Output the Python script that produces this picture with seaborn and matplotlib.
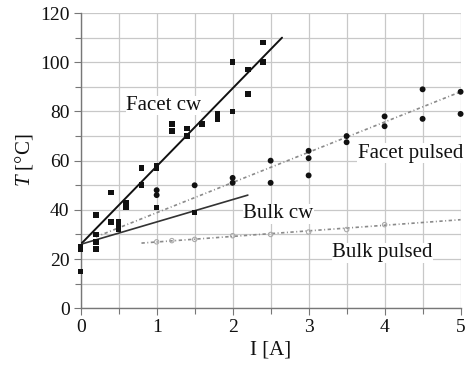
import matplotlib
matplotlib.use("Agg")
import matplotlib.pyplot as plt
import seaborn as sns
import pandas as pd
from matplotlib.ticker import MultipleLocator

sns.set_theme(style="white")
plt.rcParams['font.family'] = ['Liberation Serif', 'DejaVu Serif']
plt.rcParams['mathtext.fontset'] = 'custom'
plt.rcParams['mathtext.it'] = 'Liberation Serif:italic'
plt.rcParams['mathtext.rm'] = 'Liberation Serif'

# Measured points: current I [A], temperature T [°C]
facet_cw_I = [0, 0, 0.2, 0.4, 0.4, 0.5, 0.6, 0.6, 0.8, 0.8, 1.0, 1.0, 1.2, 1.2, 1.4, 1.4,
              1.6, 1.8, 1.8, 2.0, 2.0, 2.2, 2.2, 2.4, 2.4]
facet_cw_T = [25, 24, 38, 47, 35, 35, 43, 41, 57, 50, 57, 58, 75, 72, 73, 70,
              75, 79, 77, 100, 80, 97, 87, 108, 100]

bulk_cw_I = [0, 0.2, 0.2, 0.2, 0.5, 0.5, 1.0, 1.5]
bulk_cw_T = [15, 24, 30, 27, 33, 32, 41, 39]

facet_pulsed_I = [1.0, 1.0, 1.5, 2.0, 2.0, 2.5, 2.5, 3.0, 3.0, 3.0, 3.5, 3.5,
                  4.0, 4.0, 4.5, 4.5, 5.0, 5.0]
facet_pulsed_T = [48, 46, 50, 53, 51, 60, 51, 64, 61, 54, 70, 67.5,
                  78, 74, 89, 77, 88, 79]

bulk_pulsed_I = [1.0, 1.2, 1.5, 2.0, 2.5, 3.0, 3.5, 4.0]
bulk_pulsed_T = [27, 27.5, 28, 29.5, 30, 31, 32, 34]

# Fitted trend lines (end points)
fit_facet_cw_I = [0, 2.65]
fit_facet_cw_T = [26, 110]
fit_bulk_cw_I = [0, 2.2]
fit_bulk_cw_T = [26, 46]
fit_facet_pulsed_I = [0.2, 5.0]
fit_facet_pulsed_T = [29, 88]
fit_bulk_pulsed_I = [0.8, 5.0]
fit_bulk_pulsed_T = [26.5, 36]

labels = ["Facet cw", "Facet pulsed", "Bulk cw", "Bulk pulsed"]
label_I = [1.09, 4.34, 2.6, 3.97]
label_T = [82.4, 63.0, 38.4, 22.6]

fig = plt.figure(figsize=(4.65, 3.73), dpi=100)
ax = fig.add_axes([0.1735, 0.1735, 0.817, 0.7915])

sq = pd.DataFrame({"I": facet_cw_I + bulk_cw_I, "T": facet_cw_T + bulk_cw_T})
ci = pd.DataFrame({"I": facet_pulsed_I, "T": facet_pulsed_T})
bp = pd.DataFrame({"I": bulk_pulsed_I, "T": bulk_pulsed_T})

dd = (0, (2, 1.5, 0.6, 1.5))
sns.lineplot(x=fit_facet_pulsed_I, y=fit_facet_pulsed_T, ax=ax, color="#8a8a8a",
             lw=1.2, linestyle=dd, zorder=3)
sns.lineplot(x=fit_bulk_pulsed_I, y=fit_bulk_pulsed_T, ax=ax, color="#8a8a8a",
             lw=1.2, linestyle=dd, zorder=3)
sns.lineplot(x=fit_facet_cw_I, y=fit_facet_cw_T, ax=ax, color="#111111", lw=1.4, zorder=4)
sns.lineplot(x=fit_bulk_cw_I, y=fit_bulk_cw_T, ax=ax, color="#333333", lw=1.2, zorder=4)

sns.scatterplot(data=sq, x="I", y="T", ax=ax, marker="s", s=16, color="#111111",
                edgecolor="none", zorder=5, clip_on=False)
sns.scatterplot(data=ci, x="I", y="T", ax=ax, marker="o", s=18, color="#111111",
                edgecolor="none", zorder=5, clip_on=False)
sns.scatterplot(data=bp, x="I", y="T", ax=ax, marker="o", s=10, facecolor="none",
                edgecolor="#aaaaaa", linewidth=0.8, zorder=5)

for t, xi, yi in zip(labels, label_I, label_T):
    ax.text(xi, yi, t, fontsize=15, ha="center", va="center", color="#111111", zorder=2.5,
            clip_on=False,
            bbox=dict(facecolor="white", edgecolor="none", pad=0.3))

ax.set_xlim(0, 5)
ax.set_ylim(0, 120)
ax.xaxis.set_major_locator(MultipleLocator(1))
ax.xaxis.set_minor_locator(MultipleLocator(0.5))
ax.yaxis.set_major_locator(MultipleLocator(20))
ax.yaxis.set_minor_locator(MultipleLocator(10))
ax.grid(True, which="both", color="#c8c8c8", lw=0.9)
ax.set_axisbelow(True)

for s in ["top", "right"]:
    ax.spines[s].set_visible(False)
for s in ["left", "bottom"]:
    ax.spines[s].set_color("#777777")
    ax.spines[s].set_linewidth(1.0)

ax.tick_params(which="both", direction="out", color="#777777", width=0.8,
               labelsize=14, labelcolor="#111111", pad=3)
ax.tick_params(which="major", length=5, left=True, bottom=True)
ax.tick_params(which="minor", length=4, left=True, bottom=True)

ax.set_xlabel("I [A]", fontsize=15, color="#111111", labelpad=3)
ax.set_ylabel(r"$T$ [°C]", fontsize=15, color="#111111", labelpad=4)

fig.savefig("out.png", dpi=100)
